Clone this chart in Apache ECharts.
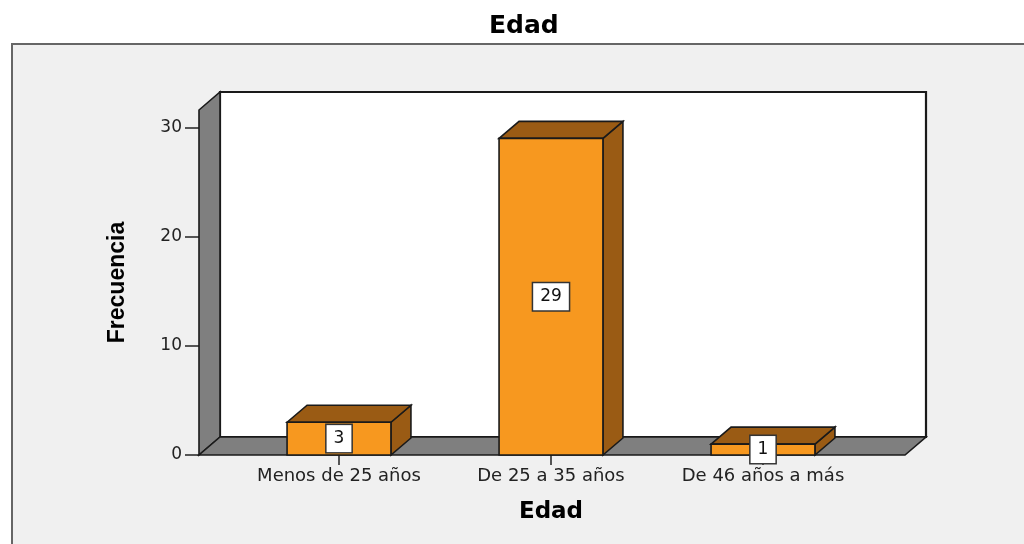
<!DOCTYPE html>
<html>
<head>
<meta charset="utf-8">
<title>Edad</title>
<script src="https://cdn.jsdelivr.net/npm/echarts@6/dist/echarts.min.js"></script>
<style>
    html, body { margin: 0; padding: 0; background: #fff; }
    #chart-container { width: 1024px; height: 544px; }
</style>
</head>
<body>
<div id="chart-container"></div>
<script>
// Datos del gráfico
const categorias = ['Menos de 25 años', 'De 25 a 35 años', 'De 46 años a más'];
const frecuencias = [3, 29, 1];
const ticksY = [0, 10, 20, 30];
const maxY = 31.6;

const fuente = 'DejaVu Sans';
const borde = { stroke: '#1a1a1a', lineWidth: 1.6 };

// Paredes y piso del gráfico 3D
function renderParedes(params, api) {
    const cs = params.coordSys;
    const y0 = api.coord([0, 0])[1];
    const yTop = api.coord([0, maxY])[1];
    const izq = cs.x - 34;
    const der = cs.x + cs.width + 36;
    const dx = 21, dy = -18;
    return {
        type: 'group',
        children: [
            {
                type: 'rect',
                shape: { x: izq + dx, y: yTop + dy, width: der - izq, height: y0 - yTop },
                style: { fill: '#ffffff', stroke: '#1a1a1a', lineWidth: 2.2 }
            },
            {
                type: 'polygon',
                shape: { points: [[izq, y0], [izq, yTop], [izq + dx, yTop + dy], [izq + dx, y0 + dy]] },
                style: Object.assign({ fill: '#7f7f7f' }, borde)
            },
            {
                type: 'polygon',
                shape: { points: [[izq, y0], [der, y0], [der + dx, y0 + dy], [izq + dx, y0 + dy]] },
                style: Object.assign({ fill: '#7f7f7f' }, borde)
            }
        ]
    };
}

// Barras 3D con etiqueta
function renderBarra(params, api) {
    const cat = api.value(0);
    const val = api.value(1);
    const top = api.coord([cat, val]);
    const base = api.coord([cat, 0]);
    const w = api.size([1, 0])[0] * 0.49;
    const x0 = top[0] - w / 2, x1 = top[0] + w / 2;
    const y0 = top[1], y1 = base[1];
    const dx = 20, dy = -17;
    return {
        type: 'group',
        children: [
            {
                type: 'polygon',
                shape: { points: [[x1, y1], [x1, y0], [x1 + dx, y0 + dy], [x1 + dx, y1 + dy]] },
                style: Object.assign({ fill: '#9a5b14' }, borde)
            },
            {
                type: 'polygon',
                shape: { points: [[x0, y0], [x0 + dx, y0 + dy], [x1 + dx, y0 + dy], [x1, y0]] },
                style: Object.assign({ fill: '#9a5b14' }, borde)
            },
            {
                type: 'rect',
                shape: { x: x0, y: y0, width: w, height: y1 - y0 },
                style: Object.assign({ fill: '#f7981f' }, borde)
            },
            {
                type: 'text',
                x: top[0],
                y: (y0 + y1) / 2,
                style: {
                    text: String(val),
                    align: 'center',
                    verticalAlign: 'middle',
                    fontSize: 17,
                    fontFamily: fuente,
                    fill: '#111',
                    backgroundColor: '#fff',
                    borderColor: '#333',
                    borderWidth: 1.5,
                    padding: [5, 7]
                }
            }
        ]
    };
}

var dom = document.getElementById('chart-container');
var myChart = echarts.init(dom, null, { renderer: 'canvas' });

var option = {
    backgroundColor: '#ffffff',
    animation: false,
    title: {
        text: 'Edad',
        left: 484,
        top: 9,
        textStyle: { fontFamily: fuente, fontSize: 25, fontWeight: 'bold', color: '#000' }
    },
    graphic: [{
        type: 'rect',
        z: -10,
        shape: { x: 12, y: 44, width: 1100, height: 600 },
        style: { fill: '#f0f0f0', stroke: '#666', lineWidth: 2 }
    }],
    grid: { left: 233, right: 155, top: 110, bottom: 89 },
    xAxis: {
        type: 'category',
        data: categorias,
        name: 'Edad',
        nameLocation: 'middle',
        nameGap: 46,
        nameTextStyle: { fontFamily: fuente, fontSize: 23, fontWeight: 'bold', color: '#000' },
        axisLine: { show: false },
        axisTick: { show: true, alignWithLabel: true, interval: 0, length: 10, lineStyle: { color: '#222', width: 1.5 } },
        axisLabel: { interval: 0, hideOverlap: false, margin: 12, fontFamily: fuente, fontSize: 18, color: '#222' },
        splitLine: { show: false }
    },
    yAxis: {
        type: 'value',
        min: 0,
        max: maxY,
        interval: 10,
        offset: 34,
        name: 'Frecuencia',
        nameLocation: 'middle',
        nameGap: 70,
        nameTextStyle: { fontFamily: 'Liberation Sans', fontSize: 23, fontWeight: 'bold', color: '#000' },
        axisLine: { show: false },
        axisTick: { show: true, customValues: ticksY, length: 14, lineStyle: { color: '#222', width: 1.5 } },
        axisLabel: { customValues: ticksY, margin: 17, fontFamily: fuente, fontSize: 17, color: '#222' },
        splitLine: { show: false }
    },
    series: [
        {
            name: 'paredes',
            type: 'custom',
            z: 1,
            silent: true,
            renderItem: renderParedes,
            data: [[0, 0]]
        },
        {
            name: 'Frecuencia',
            type: 'custom',
            z: 3,
            renderItem: renderBarra,
            data: frecuencias.map((v, i) => [i, v])
        }
    ]
};

myChart.setOption(option);
</script>
</body>
</html>
